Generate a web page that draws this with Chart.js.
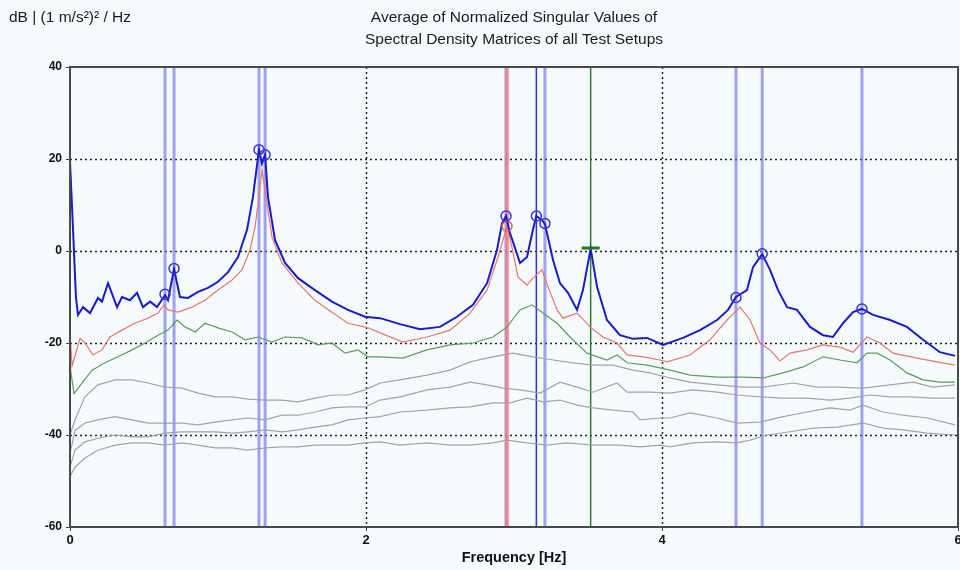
<!DOCTYPE html>
<html><head><meta charset="utf-8">
<script src="https://cdn.jsdelivr.net/npm/chart.js@4.4.1/dist/chart.umd.min.js"></script>
<style>html,body{margin:0;padding:0;background:#f5fbfd;}#wrap{width:960px;height:570px;}</style>
</head><body><div id="wrap"><canvas id="c" width="960" height="570"></canvas></div>
<script>
const titleLines = ["Average of Normalized Singular Values of", "Spectral Density Matrices of all Test Setups"];
const yUnitLabel = "dB | (1 m/s²)² / Hz";
const xAxisTitle = "Frequency [Hz]";
const xTickValues = [0, 2, 4, 6];
const yTickValues = [-60, -40, -20, 0, 20, 40];

const blueHz = [0,0.02,0.04,0.054,0.088,0.135,0.189,0.216,0.257,0.318,0.351,0.405,0.453,0.493,0.541,0.588,0.642,0.662,0.703,0.743,0.797,0.865,0.932,1.0,1.068,1.135,1.196,1.236,1.277,1.297,1.318,1.338,1.385,1.453,1.541,1.655,1.770,1.878,1.993,2.095,2.230,2.365,2.5,2.615,2.723,2.818,2.885,2.919,2.946,2.973,3.041,3.088,3.128,3.151,3.189,3.209,3.264,3.311,3.365,3.426,3.466,3.518,3.561,3.628,3.716,3.804,3.899,4.007,4.142,4.257,4.372,4.446,4.5,4.574,4.615,4.677,4.730,4.784,4.845,4.912,5.0,5.088,5.155,5.223,5.291,5.351,5.426,5.541,5.655,5.764,5.878,5.98];
const blueDb = [19.5,5,-10,-13.9,-12.2,-13.5,-10.2,-11,-7,-12.2,-10,-10.7,-9.1,-12.2,-11,-12.2,-9.6,-10.7,-3.9,-10,-10.2,-8.9,-8,-6.7,-4.6,-1.3,4.6,11.7,22,19,20.9,11.7,2.4,-2.6,-5.9,-8.5,-11,-12.8,-14.3,-14.6,-15.9,-17,-16.5,-14.3,-11.7,-7,0.2,6,7.6,3.9,-2.6,-1.3,4.6,7.6,6.7,5.9,-2,-7,-9.1,-12.8,-8.5,0.5,-7.8,-15,-18.3,-19.1,-18.9,-20.4,-18.9,-17.2,-15,-12.8,-10,-8.5,-3.5,-0.7,-4.1,-8.5,-12.2,-12.8,-16.5,-18.3,-18.7,-15.7,-13.3,-12.6,-13.9,-15,-16.5,-19.3,-22,-22.8];

const redHz = [0,0.014,0.068,0.101,0.155,0.216,0.270,0.351,0.439,0.527,0.595,0.635,0.662,0.730,0.824,0.912,1.0,1.095,1.162,1.216,1.250,1.277,1.297,1.331,1.365,1.432,1.541,1.655,1.770,1.878,2.014,2.095,2.250,2.412,2.568,2.703,2.818,2.892,2.953,2.986,3.027,3.088,3.128,3.189,3.230,3.291,3.331,3.426,3.514,3.601,3.696,3.764,3.872,3.986,4.034,4.189,4.324,4.439,4.527,4.595,4.662,4.730,4.797,4.865,4.980,5.088,5.203,5.291,5.385,5.473,5.561,5.723,5.858,5.98];
const redDb = [-18,-25,-19,-20,-22.6,-21.5,-18.7,-17.2,-15.7,-14.6,-13.5,-11.7,-12.8,-13.3,-12.2,-10.7,-8.5,-6.3,-4.1,0.2,5.2,11.7,17.6,10.4,3,-2.6,-7,-10.7,-13.3,-15.7,-16.7,-17.8,-19.8,-18.7,-17.2,-13.5,-8.5,-1.3,5.4,0.9,-5.7,-7.4,-5.9,-4.1,-7.8,-12.8,-14.6,-13.5,-16.5,-18.7,-20,-22.6,-23,-23.7,-24.1,-22.6,-19.3,-15,-12.2,-15,-20,-21.5,-23.9,-22.2,-21.5,-20.4,-20.9,-22,-18.7,-20,-22.2,-23.3,-24.1,-24.8];

const greenHz = [0,0.027,0.081,0.149,0.236,0.324,0.419,0.507,0.595,0.662,0.723,0.777,0.845,0.912,1.0,1.095,1.182,1.270,1.365,1.453,1.568,1.676,1.770,1.858,1.946,2.014,2.095,2.250,2.412,2.568,2.723,2.858,2.953,3.041,3.122,3.196,3.291,3.378,3.493,3.628,3.696,3.764,3.899,3.986,4.054,4.189,4.372,4.547,4.682,4.818,4.953,5.088,5.203,5.318,5.385,5.453,5.541,5.655,5.764,5.878,5.98];
const greenDb = [-25,-31,-28.7,-25.9,-24.3,-23,-21.5,-20,-18.3,-17.2,-15,-16.5,-17.6,-15.7,-16.7,-17.6,-19.3,-18.7,-19.8,-18.7,-18.9,-20.4,-20,-22.2,-21.5,-23,-23,-23.3,-21.5,-20.4,-20,-18.7,-16.5,-12.8,-11.7,-13.5,-15.7,-18.7,-22.2,-23.7,-22.6,-24.3,-24.8,-25.4,-25.9,-27,-27.4,-27.4,-27.6,-26.5,-25.2,-23,-23.7,-24.3,-22.2,-22.2,-23.7,-26.5,-28,-28.5,-28.5];

const gray1Hz = [0,0.034,0.101,0.189,0.304,0.419,0.527,0.642,0.757,0.865,0.980,1.095,1.203,1.318,1.432,1.541,1.655,1.770,1.878,1.993,2.095,2.230,2.412,2.568,2.703,2.858,2.993,3.128,3.264,3.399,3.534,3.669,3.804,3.919,4.054,4.189,4.372,4.547,4.682,4.885,5.047,5.182,5.358,5.541,5.696,5.831,5.98];
const gray1Db = [-40,-36.7,-31.7,-29.1,-28,-28,-28.7,-29.6,-29.8,-30.9,-31.7,-31.7,-32.2,-32.4,-32.4,-32.8,-32,-31.3,-31.3,-30.2,-28.7,-28,-27,-25.9,-24.1,-23,-22.2,-23,-23.7,-24.3,-24.8,-24.8,-25.9,-26.5,-27.6,-28.5,-29.1,-29.6,-29.6,-28.7,-29.6,-29.6,-29.8,-29.1,-28.5,-29.6,-29.1];

const gray2Hz = [0,0.034,0.101,0.189,0.304,0.419,0.527,0.642,0.757,0.865,0.980,1.095,1.203,1.318,1.432,1.541,1.655,1.770,1.878,1.993,2.095,2.230,2.412,2.568,2.703,2.818,2.926,3.041,3.176,3.311,3.426,3.534,3.696,3.764,3.919,4.054,4.209,4.372,4.507,4.662,4.818,4.980,5.135,5.270,5.405,5.541,5.676,5.831,5.98];
const gray2Db = [-44,-39,-37.4,-36.7,-36,-36.7,-37.4,-37.4,-37.4,-37.8,-37.2,-36.7,-36.3,-36.7,-35.7,-35.7,-35,-34.1,-33.9,-33.9,-32.4,-31.7,-30.2,-29.6,-28.5,-29.1,-29.8,-30.2,-30.9,-28.5,-29.6,-30.7,-28.7,-30.7,-30.7,-30.9,-30.2,-30.7,-31.3,-31.7,-32,-32,-32.4,-32,-31.3,-31.7,-31.7,-32,-32];

const gray3Hz = [0,0.034,0.101,0.189,0.304,0.419,0.527,0.642,0.757,0.865,0.980,1.095,1.203,1.318,1.432,1.541,1.655,1.770,1.878,1.993,2.095,2.230,2.412,2.568,2.703,2.858,2.973,3.088,3.196,3.311,3.426,3.534,3.669,3.804,3.851,3.986,4.054,4.189,4.372,4.507,4.662,4.818,4.980,5.135,5.270,5.358,5.493,5.628,5.791,5.98];
const gray3Db = [-47,-43.3,-41.5,-40.7,-40,-40.4,-40.4,-39.6,-39.3,-39.3,-39.3,-39.6,-39.3,-38.9,-39.3,-38.9,-38.3,-37.8,-36.7,-36.3,-36,-35,-34.6,-34.1,-33.9,-33,-33,-32,-32.8,-32.4,-33.5,-34.1,-34.6,-35,-36.7,-36.3,-36.3,-35.2,-36.3,-37.4,-37.2,-36,-35,-34.1,-34.6,-33.5,-35,-35.7,-36.3,-37.8];

const gray4Hz = [0,0.034,0.101,0.189,0.304,0.419,0.527,0.642,0.757,0.865,0.980,1.095,1.203,1.318,1.432,1.541,1.655,1.770,1.878,1.993,2.095,2.230,2.412,2.568,2.703,2.858,2.953,3.088,3.223,3.358,3.534,3.716,3.851,3.986,4.054,4.209,4.372,4.507,4.595,4.709,4.865,5.020,5.182,5.358,5.493,5.628,5.791,5.98];
const gray4Db = [-49,-47,-45,-43.3,-42.2,-41.7,-41.7,-42.2,-41.7,-42.2,-42.8,-42.8,-43.3,-42.8,-42.6,-42.6,-42.2,-42.2,-42.2,-41.7,-41.5,-42.2,-41.7,-42.2,-42.2,-41.7,-41.1,-41.7,-42.2,-41.7,-42.2,-42.2,-42.6,-42.2,-42.6,-41.7,-41.5,-41.7,-41.1,-40,-39.3,-38.5,-38.3,-37.4,-38.5,-38.9,-39.6,-40];

const peakHz = [0.642, 0.703, 1.277, 1.318, 2.946, 3.151, 3.209, 4.500, 4.677, 5.351];
const peakDb = [-9.4, -3.8, 22.0, 20.9, 7.6, 7.6, 6.0, -10.1, -0.6, -12.6];
const peak2Hz = [2.953];
const peak2Db = [5.4];
const peak3Hz = [3.518];
const peak3Db = [0.65];

const pts = (xs, ys) => xs.map((x, i) => ({x, y: ys[i]}));
const yMin = yTickValues[0], yMax = yTickValues[yTickValues.length - 1];
const vline = (f) => [{x: f, y: yMin}, {x: f, y: yMax}];

const line = (label, data, color, width) => ({label, data, borderColor: color, borderWidth: width, showLine: true, pointRadius: 0, tension: 0, fill: false});

const datasets = [];
datasets.push({label: 'peak3', data: pts(peak3Hz, peak3Db), pointStyle: 'line', pointRadius: 9, borderColor: '#1f7a1f', borderWidth: 3, showLine: false});
datasets.push({label: 'peaks', data: pts(peakHz, peakDb), pointStyle: 'circle', pointRadius: 5, backgroundColor: 'rgba(0,0,0,0)', borderColor: '#3535d8', borderWidth: 1.5, showLine: false});
datasets.push({label: 'peaks2', data: pts(peak2Hz, peak2Db), pointStyle: 'circle', pointRadius: 5, backgroundColor: 'rgba(0,0,0,0)', borderColor: '#e06060', borderWidth: 1.5, showLine: false});
datasets.push(line('SV1', pts(blueHz, blueDb), '#1a1ac8', 2));
datasets.push(line('SV2', pts(redHz, redDb), '#e8776f', 1.2));
datasets.push(line('SV3', pts(greenHz, greenDb), '#5f9a5f', 1.2));
datasets.push(line('SV4', pts(gray1Hz, gray1Db), '#a3a3a3', 1.2));
datasets.push(line('SV5', pts(gray2Hz, gray2Db), '#a3a3a3', 1.2));
datasets.push(line('SV6', pts(gray3Hz, gray3Db), '#a3a3a3', 1.2));
datasets.push(line('SV7', pts(gray4Hz, gray4Db), '#a3a3a3', 1.2));
peak3Hz.forEach(f => datasets.push(line('v3', vline(f), '#2e7d2e', 1.5)));
peak2Hz.forEach(f => datasets.push(line('v2', vline(f), 'rgba(240,125,125,0.75)', 4)));
peakHz.forEach((f, i) => datasets.push(line('v', vline(f), i === 5 ? '#3030d0' : 'rgba(110,110,235,0.65)', i === 5 ? 1.5 : 3)));

const BG = '#f5fbfd';
const textFont = '"Liberation Sans", Arial, sans-serif';

const decor = {
  id: 'decor',
  beforeDraw(chart) {
    const c = chart.ctx;
    c.save(); c.fillStyle = BG; c.fillRect(0, 0, chart.width, chart.height); c.restore();
  },
  beforeDatasetsDraw(chart) {
    const {ctx: c, chartArea: a, scales: {x, y}} = chart;
    c.save();
    c.strokeStyle = '#222'; c.lineWidth = 1.5; c.setLineDash([2, 3]);
    xTickValues.forEach(v => { const px = Math.round(x.getPixelForValue(v)) + 0.5; if (px > a.left + 2 && px < a.right - 2) { c.beginPath(); c.moveTo(px, a.top); c.lineTo(px, a.bottom); c.stroke(); } });
    yTickValues.forEach(v => { const py = Math.round(y.getPixelForValue(v)) + 0.5; if (py > a.top + 2 && py < a.bottom - 2) { c.beginPath(); c.moveTo(a.left, py); c.lineTo(a.right, py); c.stroke(); } });
    c.restore();
  },
  afterDatasetsDraw(chart) {
    const {ctx: c, chartArea: a} = chart;
    c.save();
    c.strokeStyle = '#4a4a4a'; c.lineWidth = 2; c.setLineDash([]);
    c.strokeRect(a.left, a.top, a.right - a.left, a.bottom - a.top);
    c.restore();
  },
  afterDraw(chart) {
    const {ctx: c, chartArea: a, scales: {x}} = chart;
    c.save();
    c.fillStyle = '#1a1a1a'; c.textBaseline = 'middle';
    c.font = '15.5px ' + textFont; c.textAlign = 'center';
    const cx = (a.left + a.right) / 2;
    c.fillText(titleLines[0], cx, 18);
    c.fillText(titleLines[1], cx, 40);
    c.textAlign = 'left';
    c.fillText(yUnitLabel, 9, 18);
    c.fillStyle = '#111'; c.font = 'bold 13px ' + textFont; c.textAlign = 'center';
    xTickValues.forEach(v => c.fillText(String(v), x.getPixelForValue(v), a.bottom + 13));
    c.restore();
  }
};

new Chart(document.getElementById('c'), {
  type: 'scatter',
  data: {datasets},
  plugins: [decor],
  options: {
    responsive: false, animation: false, devicePixelRatio: 1,
    layout: {autoPadding: false, padding: {top: 67, right: 2, left: 0, bottom: 0}},
    plugins: {legend: {display: false}, tooltip: {enabled: false}, title: {display: false}},
    scales: {
      x: {
        type: 'linear', min: 0, max: 6,
        afterFit: s => { s.height = 43; s.paddingLeft = 0; s.paddingRight = 0; },
        afterBuildTicks: s => { s.ticks = xTickValues.map(v => ({value: v})); },
        ticks: {display: false},
        grid: {drawOnChartArea: false, drawTicks: true, tickLength: 4, color: '#444'},
        border: {display: false},
        title: {display: true, text: xAxisTitle, color: '#111', font: {family: textFont, size: 14.5, weight: 'bold'}, padding: {top: 0, bottom: 3}}
      },
      y: {
        type: 'linear', min: yMin, max: yMax,
        afterFit: s => { s.width = 70; s.paddingTop = 0; s.paddingBottom = 0; },
        afterBuildTicks: s => { s.ticks = yTickValues.map(v => ({value: v})); },
        ticks: {color: '#111', font: {family: textFont, size: 12, weight: 'bold'}, padding: 4},
        grid: {drawOnChartArea: false, drawTicks: true, tickLength: 4, color: '#444'},
        border: {display: false}
      }
    }
  }
});
</script></body></html>
